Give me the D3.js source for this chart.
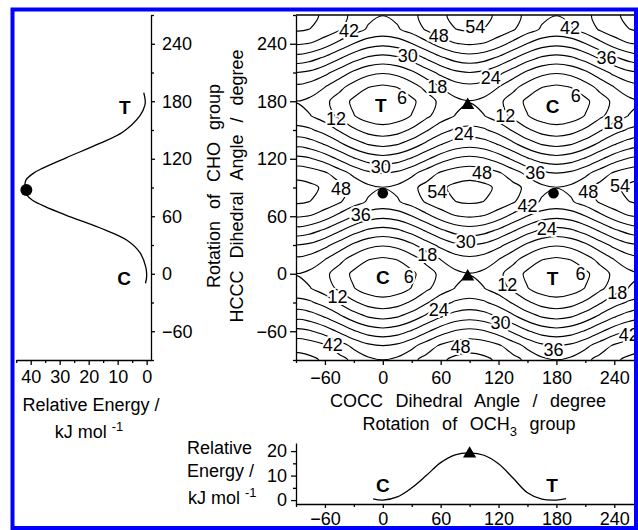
<!DOCTYPE html>
<html>
<head>
<meta charset="utf-8">
<script src="https://cdn.jsdelivr.net/npm/d3@7"></script>
<style>
  body { margin: 0; background: #fff; }
  svg { font-family: "Liberation Sans", Arial, sans-serif; }
</style>
</head>
<body>
<svg id="chart" width="638" height="530"></svg>
<script>
// ---------------- data ----------------
// grid of the energy surface (kJ/mol), rows from top (HCCC 270) to bottom (HCCC -90)
const phiGrid = [-90,-75,-60,-45,-30,-15,0,15,30,45,60,75,90,105,120,135,150,165,180,195,210,225,240,255,270];
const psiGrid = [270,255,240,225,210,195,180,165,150,135,120,105,90,75,60,45,30,15,0,-15,-30,-45,-60,-75,-90];
const energyGrid = [
  [56.1,55.3,53.0,50.0,46.5,43.3,42.1,43.3,46.5,50.0,53.0,55.3,56.1,55.3,53.0,50.0,46.5,43.3,42.1,43.3,46.5,50.0,53.0,55.3,56.1],
  [54.7,53.9,51.8,48.6,44.5,41.3,40.1,41.3,44.5,48.6,51.8,53.9,54.7,53.9,51.8,48.6,44.5,41.3,40.1,41.3,44.5,48.6,51.8,53.9,54.7],
  [48.6,47.7,44.5,40.2,35.8,32.6,31.4,32.6,35.8,40.2,44.5,47.7,48.6,47.7,44.5,40.2,35.8,32.6,31.4,32.6,35.8,40.2,44.5,47.7,48.6],
  [39.3,38.1,34.9,30.6,26.2,23.0,21.8,23.0,26.2,30.6,34.9,38.1,39.3,38.1,34.9,30.6,26.2,23.0,21.8,23.0,26.2,30.6,34.9,38.1,39.3],
  [30.0,28.8,25.6,21.3,16.9,13.7,12.5,13.7,16.9,21.3,25.6,28.8,30.0,28.8,25.6,21.3,16.9,13.7,12.5,13.7,16.9,21.3,25.6,28.8,30.0],
  [22.5,21.3,18.1,13.8,9.4,6.2,5.0,6.2,9.4,13.8,18.1,21.3,22.5,21.3,18.1,13.8,9.4,6.2,5.0,6.2,9.4,13.8,18.1,21.3,22.5],
  [17.8,16.6,13.4,9.1,4.7,1.5,0.3,1.5,4.7,9.1,13.4,16.6,17.8,16.6,13.4,9.1,4.7,1.5,0.3,1.5,4.7,9.1,13.4,16.6,17.8],
  [19.3,18.1,14.9,10.6,6.2,3.0,1.8,3.0,6.2,10.6,14.9,18.1,19.3,18.1,14.9,10.6,6.2,3.0,1.8,3.0,6.2,10.6,14.9,18.1,19.3],
  [26.0,24.8,21.6,17.3,12.9,9.7,8.5,9.7,12.9,17.3,21.6,24.8,26.0,24.8,21.6,17.3,12.9,9.7,8.5,9.7,12.9,17.3,21.6,24.8,26.0],
  [34.1,32.9,29.7,25.4,21.0,17.8,16.6,17.8,21.0,25.4,29.7,32.9,34.1,32.9,29.7,25.4,21.0,17.8,16.6,17.8,21.0,25.4,29.7,32.9,34.1],
  [43.7,42.5,39.3,35.0,30.6,27.4,26.2,27.4,30.6,35.0,39.3,42.5,43.7,42.5,39.3,35.0,30.6,27.4,26.2,27.4,30.6,35.0,39.3,42.5,43.7],
  [51.9,51.0,48.8,44.8,40.4,37.2,36.0,37.2,40.4,44.8,48.8,51.0,51.9,51.0,48.8,44.8,40.4,37.2,36.0,37.2,40.4,44.8,48.8,51.0,51.9],
  [56.1,55.3,53.0,50.0,46.5,43.3,42.1,43.3,46.5,50.0,53.0,55.3,56.1,55.3,53.0,50.0,46.5,43.3,42.1,43.3,46.5,50.0,53.0,55.3,56.1],
  [54.7,53.9,51.8,48.6,44.5,41.3,40.1,41.3,44.5,48.6,51.8,53.9,54.7,53.9,51.8,48.6,44.5,41.3,40.1,41.3,44.5,48.6,51.8,53.9,54.7],
  [48.6,47.7,44.5,40.2,35.8,32.6,31.4,32.6,35.8,40.2,44.5,47.7,48.6,47.7,44.5,40.2,35.8,32.6,31.4,32.6,35.8,40.2,44.5,47.7,48.6],
  [39.3,38.1,34.9,30.6,26.2,23.0,21.8,23.0,26.2,30.6,34.9,38.1,39.3,38.1,34.9,30.6,26.2,23.0,21.8,23.0,26.2,30.6,34.9,38.1,39.3],
  [30.0,28.8,25.6,21.3,16.9,13.7,12.5,13.7,16.9,21.3,25.6,28.8,30.0,28.8,25.6,21.3,16.9,13.7,12.5,13.7,16.9,21.3,25.6,28.8,30.0],
  [22.5,21.3,18.1,13.8,9.4,6.2,5.0,6.2,9.4,13.8,18.1,21.3,22.5,21.3,18.1,13.8,9.4,6.2,5.0,6.2,9.4,13.8,18.1,21.3,22.5],
  [17.8,16.6,13.4,9.1,4.7,1.5,0.3,1.5,4.7,9.1,13.4,16.6,17.8,16.6,13.4,9.1,4.7,1.5,0.3,1.5,4.7,9.1,13.4,16.6,17.8],
  [19.3,18.1,14.9,10.6,6.2,3.0,1.8,3.0,6.2,10.6,14.9,18.1,19.3,18.1,14.9,10.6,6.2,3.0,1.8,3.0,6.2,10.6,14.9,18.1,19.3],
  [26.0,24.8,21.6,17.3,12.9,9.7,8.5,9.7,12.9,17.3,21.6,24.8,26.0,24.8,21.6,17.3,12.9,9.7,8.5,9.7,12.9,17.3,21.6,24.8,26.0],
  [34.1,32.9,29.7,25.4,21.0,17.8,16.6,17.8,21.0,25.4,29.7,32.9,34.1,32.9,29.7,25.4,21.0,17.8,16.6,17.8,21.0,25.4,29.7,32.9,34.1],
  [43.7,42.5,39.3,35.0,30.6,27.4,26.2,27.4,30.6,35.0,39.3,42.5,43.7,42.5,39.3,35.0,30.6,27.4,26.2,27.4,30.6,35.0,39.3,42.5,43.7],
  [51.9,51.0,48.8,44.8,40.4,37.2,36.0,37.2,40.4,44.8,48.8,51.0,51.9,51.0,48.8,44.8,40.4,37.2,36.0,37.2,40.4,44.8,48.8,51.0,51.9],
  [56.1,55.3,53.0,50.0,46.5,43.3,42.1,43.3,46.5,50.0,53.0,55.3,56.1,55.3,53.0,50.0,46.5,43.3,42.1,43.3,46.5,50.0,53.0,55.3,56.1]
];
const levels = [6,12,18,24,30,36,42,48,54];

// contour labels: [value, COCC, HCCC]
const contourLabels = [
  [42,-35,253.6],[48,58,248.5],[54,96,258],[42,194,257],[30,26,227.6],[36,232,226],
  [24,112,204.5],[18,56.6,195.4],[6,20,184],[12,-48.6,161.8],[12,127,165],[6,200,186],
  [18,239,158],[24,84,146],[30,-2,111.5],[48,-43.4,89],[48,103,106],[36,158,106],
  [54,56.5,85.5],[48,213,85.5],[54,246,92.5],[36,-22.8,61.3],[42,150,71.7],[24,170,47.5],
  [30,86,33.6],[18,46,19.7],[6,27,-3.4],[12,-47,-23.6],[12,129,-11.4],[6,205,0],
  [18,243,-20],[24,58,-37.4],[30,122,-51],[42,255,-63.4],[48,80.7,-75.6],[36,177,-79],[42,-52,-73.8]
];
const wellNames = ["T","C","C","T"];
const wellPhi = [-2,176,0,176];
const wellPsi = [176,175,-4,-5];
const saddlePhi = [88,88];
const saddlePsi = [176,-3];
const dotPhi = [0,177];
const dotPsi = [84,84];

// left panel: energy along CHO rotation
const choAngle  = [-10,-3,7,22,35,48,61,70,77,82,87,93,98,105,110,121,136,148,165,176,181,189];
const choEnergy = [0.4,0,0.3,2.3,6.8,16.2,27.7,35,39.5,41.3,42,42,41.6,39,36,27.8,16.2,8.2,2.3,0.6,0.5,1];
const choMaxAngle = 87.5, choMaxEnergy = 41.5;
const choNames = ["T","C"], choNameAngle = [174,-5], choNameEnergy = [7.5,7.8];

// bottom panel: energy along OCH3 rotation
const ochAngle  = [-10,0,15,30,45,60,75,90,105,120,135,150,165,180,190];
const ochEnergy = [0.5,0,1.3,5,10,15.3,18.5,19.3,18.3,14.8,9,3.0,0.4,0,0.6];
const ochMaxAngle = 90, ochMaxEnergy = 19.3;
const ochNames = ["C","T"], ochNameAngle = [0,175.5], ochNameEnergy = [6.1,6.1];

const angleTicks = [-60,0,60,120,180,240];
const angleMinor = [-90,-30,30,90,150,210,270];
const leftETicks = [40,30,20,10,0];
const leftEMinor = [45,35,25,15,5];
const botETicks = [0,10,20];
const botEMinor = [5,15];

// ---------------- drawing ----------------
const svg = d3.select("#chart");
const FONT = "Liberation Sans, Arial, sans-serif";

const x = d3.scaleLinear([-90, 270], [296, 643.2]);
const y = d3.scaleLinear([-90, 270], [360, 15]);
const xE = d3.scaleLinear([45, -1.5], [16.2, 151]);
const yE = d3.scaleLinear([-1.6, 23.3], [504, 443]);

const nx = phiGrid.length, ny = psiGrid.length;
const gx = d3.scaleLinear([0.5, nx - 0.5], [phiGrid[0], phiGrid[nx - 1]]);
const gy = d3.scaleLinear([0.5, ny - 0.5], [psiGrid[0], psiGrid[ny - 1]]);

svg.append("clipPath").attr("id", "plotClip")
  .append("rect").attr("x", 296).attr("y", 15).attr("width", 350).attr("height", 345);

// contours
const bands = d3.contours().size([nx, ny]).thresholds(levels)(energyGrid.flat());
const onEdge = p => p[0] <= 0 || p[0] >= nx || p[1] <= 0 || p[1] >= ny;
const lineOpen = d3.line().x(p => x(gx(p[0]))).y(p => y(gy(p[1]))).curve(d3.curveCatmullRom.alpha(0.5));
const lineClosed = d3.line().x(p => x(gx(p[0]))).y(p => y(gy(p[1]))).curve(d3.curveCatmullRomClosed.alpha(0.5));

let paths = [];
bands.forEach(b => {
  b.coordinates.forEach(poly => poly.forEach(ring => {
    const pts = ring.slice(0, -1);
    const start = pts.findIndex(onEdge);
    if (start < 0) { paths.push(lineClosed(pts)); return; }
    let cur = null;
    for (let k = 0; k <= pts.length; k++) {
      const p = pts[(start + k) % pts.length];
      if (onEdge(p)) {
        if (cur) { cur.push(p); if (cur.length > 2) paths.push(lineOpen(cur)); }
        cur = [p];
      } else cur.push(p);
    }
  }));
});

const plot = svg.append("g").attr("clip-path", "url(#plotClip)");
plot.selectAll("path.iso").data(paths).enter().append("path")
  .attr("class", "iso").attr("d", d => d)
  .attr("fill", "none").attr("stroke", "#000").attr("stroke-width", 1.15);

plot.selectAll("text.clab").data(contourLabels).enter().append("text")
  .attr("x", d => x(d[1])).attr("y", d => y(d[2])).attr("dy", "0.36em")
  .attr("text-anchor", "middle").attr("font-size", 18).attr("font-family", FONT)
  .attr("stroke", "#fff").attr("stroke-width", 4).attr("paint-order", "stroke")
  .text(d => d[0]);

plot.selectAll("text.well").data(wellNames).enter().append("text")
  .attr("x", (d, i) => x(wellPhi[i])).attr("y", (d, i) => y(wellPsi[i])).attr("dy", "0.36em")
  .attr("text-anchor", "middle").attr("font-size", 19).attr("font-weight", "bold").attr("font-family", FONT)
  .text(d => d);

const tri = d3.symbol(d3.symbolTriangle, 75);
plot.selectAll("path.saddle").data(saddlePhi).enter().append("path")
  .attr("d", tri).attr("transform", (d, i) => `translate(${x(d)},${y(saddlePsi[i])})`).attr("fill", "#000");
plot.selectAll("circle.dot").data(dotPhi).enter().append("circle")
  .attr("cx", d => x(d)).attr("cy", (d, i) => y(dotPsi[i])).attr("r", 5.3).attr("fill", "#000");

// axes helper
function styleAxis(g, fontSize) {
  g.selectAll("text").attr("font-size", fontSize).attr("font-family", FONT).attr("fill", "#000");
  g.selectAll("line,path").attr("stroke", "#000").attr("stroke-width", 1.3);
}
function minor(axisGen, g) {
  g.call(axisGen).call(a => a.select(".domain").remove());
  g.selectAll("line").attr("stroke", "#000").attr("stroke-width", 1.3);
}

// main plot axes
svg.append("g").attr("transform", "translate(296,0)")
  .call(d3.axisLeft(y).tickValues(angleTicks).tickSize(6).tickSizeOuter(0).tickPadding(3))
  .call(g => styleAxis(g, 18));
minor(d3.axisLeft(y).tickValues(angleMinor).tickSize(3).tickFormat(""), svg.append("g").attr("transform", "translate(296,0)"));
svg.append("g").attr("transform", "translate(0,360)")
  .call(d3.axisBottom(x).tickValues(angleTicks).tickSize(5).tickSizeOuter(0).tickPadding(6))
  .call(g => styleAxis(g, 18));
minor(d3.axisBottom(x).tickValues(angleMinor).tickSize(3).tickFormat(""), svg.append("g").attr("transform", "translate(0,360)"));
svg.append("line").attr("x1", x(-90)).attr("x2", x(270)).attr("y1", y(270)).attr("y2", y(270))
  .attr("stroke", "#000").attr("stroke-width", 1.3);

// left panel
svg.append("g").attr("transform", "translate(151,0)")
  .call(d3.axisRight(y).tickValues(angleTicks).tickSize(4).tickSizeOuter(0).tickPadding(7))
  .call(g => styleAxis(g, 18));
minor(d3.axisRight(y).tickValues(angleMinor).tickSize(3).tickFormat(""), svg.append("g").attr("transform", "translate(151,0)"));
svg.append("g").attr("transform", "translate(0,360)")
  .call(d3.axisBottom(xE).tickValues(leftETicks).tickSize(5).tickSizeOuter(0).tickPadding(5))
  .call(g => styleAxis(g, 18));
minor(d3.axisBottom(xE).tickValues(leftEMinor).tickSize(3).tickFormat(""), svg.append("g").attr("transform", "translate(0,360)"));

const choLine = d3.line().x((d, i) => xE(choEnergy[i])).y(d => y(d)).curve(d3.curveCatmullRom.alpha(0.5));
svg.append("path").attr("d", choLine(choAngle)).attr("fill", "none").attr("stroke", "#000").attr("stroke-width", 1.3);
svg.append("circle").attr("cx", xE(choMaxEnergy)).attr("cy", y(choMaxAngle)).attr("r", 6).attr("fill", "#000");
svg.selectAll("text.choName").data(choNames).enter().append("text")
  .attr("x", (d, i) => xE(choNameEnergy[i])).attr("y", (d, i) => y(choNameAngle[i])).attr("dy", "0.36em")
  .attr("text-anchor", "middle").attr("font-size", 19).attr("font-weight", "bold").attr("font-family", FONT)
  .text(d => d);

// bottom panel
svg.append("g").attr("transform", "translate(296,0)")
  .call(d3.axisLeft(yE).tickValues(botETicks).tickSize(5).tickSizeOuter(0).tickPadding(4))
  .call(g => styleAxis(g, 18));
minor(d3.axisLeft(yE).tickValues(botEMinor).tickSize(3).tickFormat(""), svg.append("g").attr("transform", "translate(296,0)"));
svg.append("g").attr("transform", "translate(0,504)")
  .call(d3.axisBottom(x).tickValues(angleTicks).tickSize(4).tickSizeOuter(0).tickPadding(4))
  .call(g => styleAxis(g, 18));
minor(d3.axisBottom(x).tickValues(angleMinor).tickSize(3).tickFormat(""), svg.append("g").attr("transform", "translate(0,504)"));

const ochLine = d3.line().x(d => x(d)).y((d, i) => yE(ochEnergy[i])).curve(d3.curveCatmullRom.alpha(0.5));
svg.append("path").attr("d", ochLine(ochAngle)).attr("fill", "none").attr("stroke", "#000").attr("stroke-width", 1.3);
svg.append("path").attr("d", tri).attr("transform", `translate(${x(ochMaxAngle)},${yE(ochMaxEnergy) + 1})`).attr("fill", "#000");
svg.selectAll("text.ochName").data(ochNames).enter().append("text")
  .attr("x", (d, i) => x(ochNameAngle[i])).attr("y", (d, i) => yE(ochNameEnergy[i])).attr("dy", "0.36em")
  .attr("text-anchor", "middle").attr("font-size", 19).attr("font-weight", "bold").attr("font-family", FONT)
  .text(d => d);

// titles
const T = svg.append("g").attr("font-family", FONT).attr("font-size", 18).attr("fill", "#000");
T.append("text").attr("x", 91).attr("y", 411).attr("text-anchor", "middle").text("Relative Energy /");
const kj1 = T.append("text").attr("x", 89).attr("y", 438).attr("text-anchor", "middle");
kj1.append("tspan").text("kJ mol ");
kj1.append("tspan").attr("dy", -7).attr("font-size", 13).text("-1");

const yt = T.append("g").attr("transform", "translate(220,186) rotate(-90)").attr("word-spacing", 7);
yt.append("text").attr("text-anchor", "middle").text("Rotation of CHO group");
yt.append("text").attr("y", 23).attr("text-anchor", "middle").text("HCCC Dihedral Angle / degree");

T.append("text").attr("x", 468).attr("y", 407).attr("text-anchor", "middle").attr("word-spacing", 7.5)
  .text("COCC Dihedral Angle / degree");
const och = T.append("text").attr("x", 469).attr("y", 430).attr("text-anchor", "middle").attr("word-spacing", 7.5);
och.append("tspan").text("Rotation of OCH");
och.append("tspan").attr("dy", 6).attr("font-size", 13).text("3");
och.append("tspan").attr("dy", -6).text(" group");

T.append("text").attr("x", 187).attr("y", 454).text("Relative");
T.append("text").attr("x", 187).attr("y", 477).text("Energy /");
const kj2 = T.append("text").attr("x", 188).attr("y", 504);
kj2.append("tspan").text("kJ mol ");
kj2.append("tspan").attr("dy", -7).attr("font-size", 13).text("-1");

// blue frame
svg.append("rect").attr("x", 12.5).attr("y", 9.5).attr("width", 623.5).attr("height", 518.5)
  .attr("fill", "none").attr("stroke", "#0000ff").attr("stroke-width", 4);
</script>
</body>
</html>
